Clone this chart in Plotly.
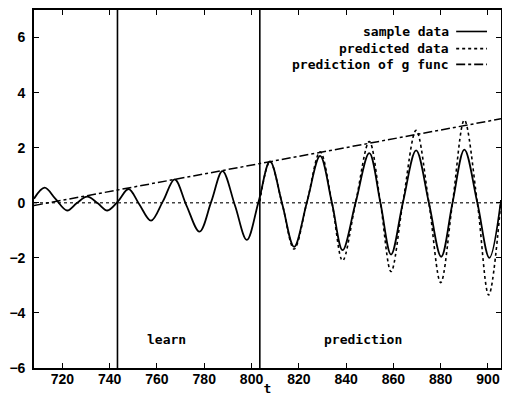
import plotly.graph_objects as go

# ---- data ----
sample_t = [708, 712.5, 717, 722, 726, 730.5, 735, 739, 743.5, 748, 752.5, 757.5,
            762.5, 767.5, 772.5, 778, 783, 787.7, 793, 798, 803, 807.8, 813, 818,
            823.5, 829, 834, 838.5, 844, 849.8, 854.5, 859, 864, 869.6, 875, 880.2,
            885, 890, 895.5, 900.6, 905.5]
sample_v = [0.15, 0.55, 0.15, -0.28, -0.02, 0.22, -0.02, -0.28, 0.05, 0.5, -0.05, -0.65,
            0.05, 0.85, -0.1, -1.05, 0.05, 1.15, -0.1, -1.35, 0.05, 1.5, -0.05, -1.6,
            0.05, 1.7, 0.0, -1.72, 0.0, 1.8, 0.0, -1.88, 0.0, 1.9, 0.0, -1.96,
            0.0, 1.93, 0.0, -2.0, 0.1]

pred_t = [803.5, 807.8, 813, 818, 823.5, 829, 834, 838.5, 844, 849.8, 854.5, 859,
          864, 869.6, 875, 880, 885, 890, 895.5, 900.3, 905.5]
pred_v = [0.05, 1.5, -0.05, -1.68, 0.05, 1.85, 0.0, -2.1, 0.0, 2.22, 0.0, -2.5,
          0.0, 2.63, 0.0, -2.9, 0.0, 3.0, 0.0, -3.35, 0.1]

g_t = [708, 905.5]
g_v = [-0.1, 3.05]

zero_t = [708, 905.5]
zero_v = [0, 0]

boundaries = [743.3, 803.5]
region_labels = ["learn", "prediction"]
region_label_t = [764, 847]
region_label_v = -4.95

x_ticks = [720, 740, 760, 780, 800, 820, 840, 860, 880, 900]
y_ticks = [-6, -4, -2, 0, 2, 4, 6]
x_range = [708, 905.5]
y_range = [-6, 7]

legend_names = ["sample data", "predicted data", "prediction of g func"]
legend_dash = ["solid", "dot", "dashdot"]

fig = go.Figure()
fig.add_trace(go.Scatter(x=zero_t, y=zero_v, mode="lines",
                         line=dict(color="#444", width=1.3, dash="dot"),
                         hoverinfo="skip"))
fig.add_trace(go.Scatter(x=g_t, y=g_v, mode="lines", name=legend_names[2],
                         line=dict(color="black", width=1.5, dash="dashdot")))
fig.add_trace(go.Scatter(x=pred_t, y=pred_v, mode="lines", name=legend_names[1],
                         line=dict(color="black", width=1.6, dash="dot", shape="spline", smoothing=1.0)))
fig.add_trace(go.Scatter(x=sample_t, y=sample_v, mode="lines", name=legend_names[0],
                         line=dict(color="black", width=1.8, shape="spline", smoothing=1.0)))

for b in boundaries:
    fig.add_trace(go.Scatter(x=[b, b], y=y_range, mode="lines",
                             line=dict(color="black", width=1.6), hoverinfo="skip"))

mono = "DejaVu Sans Mono"
for lbl, t in zip(region_labels, region_label_t):
    fig.add_annotation(x=t, y=region_label_v, text=lbl, showarrow=False,
                       font=dict(family=mono, size=13, color="black", weight="bold"))

# manual gnuplot-style legend (text, then line sample to the right)
leg_y = [0.94, 0.892, 0.848]
for name, dash, yy in zip(legend_names, legend_dash, leg_y):
    fig.add_annotation(xref="paper", yref="paper", x=0.893, y=yy, text=name,
                       showarrow=False, xanchor="right", yanchor="middle",
                       font=dict(family=mono, size=13, color="black", weight="bold"))
    fig.add_shape(type="line", xref="paper", yref="paper", x0=0.904, x1=0.970,
                  y0=yy, y1=yy, line=dict(color="black", width=1.6, dash=dash))

axis_common = dict(showline=True, linecolor="black", linewidth=1.6, mirror="ticks",
                   ticks="inside", ticklen=5, tickwidth=1.3, tickcolor="black",
                   showgrid=False, zeroline=False, automargin=False,
                   tickfont=dict(family="Liberation Sans", size=14, color="black", weight="bold"))

fig.update_xaxes(range=x_range, tickvals=x_ticks, ticklabelstandoff=-3, **axis_common,
                 title=dict(text="t", standoff=4,
                            font=dict(family=mono, size=13, color="black", weight="bold")))
fig.update_yaxes(range=y_range, tickvals=y_ticks, ticklabelstandoff=4, **axis_common)

# page body adds an 8px margin, so the figure is sized to fit the 510x396 window
fig.update_layout(width=502, height=388, showlegend=False,
                  margin=dict(l=26, r=9, t=2, b=28),
                  paper_bgcolor="white", plot_bgcolor="white")

fig.write_html("out.html")
